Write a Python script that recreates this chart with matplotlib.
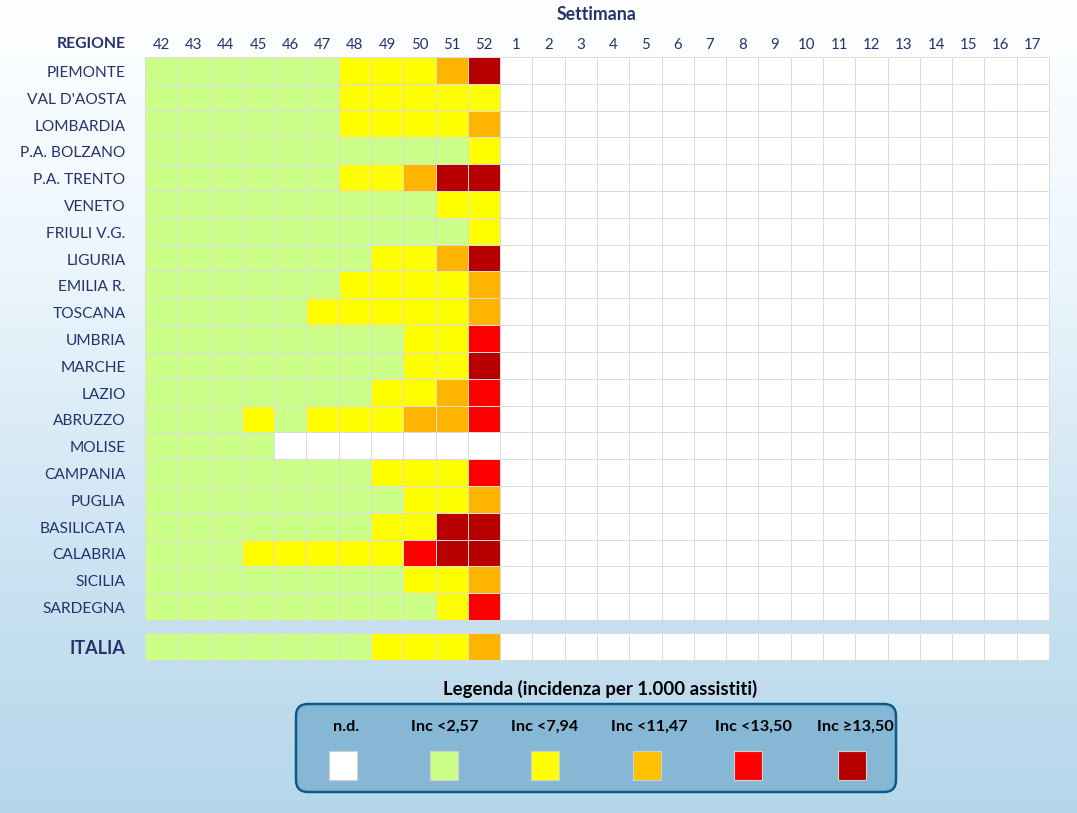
import numpy as np
import matplotlib
matplotlib.use("Agg")
import matplotlib.pyplot as plt
from matplotlib.colors import ListedColormap, BoundaryNorm, LinearSegmentedColormap
from matplotlib.patches import FancyBboxPatch, Rectangle
from matplotlib.transforms import ScaledTranslation

plt.rcParams["font.family"] = ["Lato", "DejaVu Sans"]

weeks = ["42", "43", "44", "45", "46", "47", "48", "49", "50", "51", "52",
         "1", "2", "3", "4", "5", "6", "7", "8", "9", "10", "11", "12", "13", "14", "15", "16", "17"]
regions = ["PIEMONTE", "VAL D'AOSTA", "LOMBARDIA", "P.A. BOLZANO", "P.A. TRENTO", "VENETO",
           "FRIULI V.G.", "LIGURIA", "EMILIA R.", "TOSCANA", "UMBRIA", "MARCHE", "LAZIO",
           "ABRUZZO", "MOLISE", "CAMPANIA", "PUGLIA", "BASILICATA", "CALABRIA", "SICILIA", "SARDEGNA"]

# class of each cell, weeks 42..52 (0 = n.d., 5 = highest); later weeks have no data yet
levels = [
    [1, 1, 1, 1, 1, 1, 2, 2, 2, 3, 5],
    [1, 1, 1, 1, 1, 1, 2, 2, 2, 2, 2],
    [1, 1, 1, 1, 1, 1, 2, 2, 2, 2, 3],
    [1, 1, 1, 1, 1, 1, 1, 1, 1, 1, 2],
    [1, 1, 1, 1, 1, 1, 2, 2, 3, 5, 5],
    [1, 1, 1, 1, 1, 1, 1, 1, 1, 2, 2],
    [1, 1, 1, 1, 1, 1, 1, 1, 1, 1, 2],
    [1, 1, 1, 1, 1, 1, 1, 2, 2, 3, 5],
    [1, 1, 1, 1, 1, 1, 2, 2, 2, 2, 3],
    [1, 1, 1, 1, 1, 2, 2, 2, 2, 2, 3],
    [1, 1, 1, 1, 1, 1, 1, 1, 2, 2, 4],
    [1, 1, 1, 1, 1, 1, 1, 1, 2, 2, 5],
    [1, 1, 1, 1, 1, 1, 1, 2, 2, 3, 4],
    [1, 1, 1, 2, 1, 2, 2, 2, 3, 3, 4],
    [1, 1, 1, 1, 0, 0, 0, 0, 0, 0, 0],
    [1, 1, 1, 1, 1, 1, 1, 2, 2, 2, 4],
    [1, 1, 1, 1, 1, 1, 1, 1, 2, 2, 3],
    [1, 1, 1, 1, 1, 1, 1, 2, 2, 5, 5],
    [1, 1, 1, 2, 2, 2, 2, 2, 4, 5, 5],
    [1, 1, 1, 1, 1, 1, 1, 1, 2, 2, 3],
    [1, 1, 1, 1, 1, 1, 1, 1, 1, 2, 4],
]
italia = [1, 1, 1, 1, 1, 1, 1, 2, 2, 2, 3]

legend_labels = ["n.d.", "Inc <2,57", "Inc <7,94", "Inc <11,47", "Inc <13,50", "Inc ≥13,50"]
colors = ["#ffffff", "#ccff88", "#ffff00", "#ffb400", "#ff0000", "#b80000"]
legend_colors = ["#ffffff", "#ccff88", "#ffff00", "#ffc000", "#ff0000", "#b80000"]

W, H = 1077, 813
NAVY = "#26336b"
GRID = "#dcdcdc"

cmap = ListedColormap(colors)
norm = BoundaryNorm(np.arange(-0.5, 6.5), cmap.N)


def px_axes(fig, left, top, right, bottom):
    return fig.add_axes([left / W, 1 - bottom / H, (right - left) / W, (bottom - top) / H])


def fill_weeks(rows):
    # pad the rows out to all the weeks of the season
    grid = np.zeros((len(rows), len(weeks)), dtype=int)
    for i, r in enumerate(rows):
        grid[i, :len(r)] = r
    return grid


def draw_grid(ax, grid):
    ax.pcolormesh(grid, cmap=cmap, norm=norm, edgecolors=GRID, linewidth=0.7)
    ax.set_xlim(0, grid.shape[1])
    ax.set_ylim(grid.shape[0], 0)
    for s in ax.spines.values():
        s.set_color(GRID)
        s.set_linewidth(0.7)


fig = plt.figure(figsize=(W / 100, H / 100), dpi=100)

# background gradient
bg = fig.add_axes([0, 0, 1, 1], zorder=0)
grad = LinearSegmentedColormap.from_list(
    "bg", [(0, "#ffffff"), (0.3, "#eef7fd"), (0.76, "#c6e0f0"), (1, "#b6d7eb")])
bg.imshow(np.linspace(0, 1, 256).reshape(-1, 1), aspect="auto", cmap=grad, extent=[0, W, H, 0])
bg.set_xlim(0, W)
bg.set_ylim(H, 0)
bg.axis("off")

# main table
ax = px_axes(fig, 145, 57, 1049, 620)
ax.set_zorder(1)
draw_grid(ax, fill_weeks(levels))
ax.set_xticks(np.arange(len(weeks)) + 0.5)
ax.set_xticklabels(weeks, fontsize=10.8, color=NAVY)
ax.xaxis.tick_top()
ax.set_yticks(np.arange(len(regions)) + 0.5)
ax.set_yticklabels(regions, fontsize=11.2, color=NAVY)
ax.tick_params(axis="x", length=0, pad=3.6)
ax.tick_params(axis="y", length=0, pad=14)
nudge = ScaledTranslation(0, -1 / 100, fig.dpi_scale_trans)
for lab in ax.get_yticklabels():
    lab.set_transform(lab.get_transform() + nudge)

# national row
ax2 = px_axes(fig, 145, 633, 1049, 660)
ax2.set_zorder(1)
draw_grid(ax2, fill_weeks([italia]))
ax2.set_xticks([])
ax2.set_yticks([0.5])
ax2.set_yticklabels(["ITALIA"], fontsize=13, fontweight="bold", color=NAVY)
ax2.tick_params(axis="y", length=0, pad=14)

# headers and legend go on the pixel axes, above the tables
top = fig.add_axes([0, 0, 1, 1], zorder=2)
top.set_xlim(0, W)
top.set_ylim(H, 0)
top.axis("off")
top.text(596.5, 15, "Settimana", ha="center", va="center", fontsize=12.8, fontweight="bold", color=NAVY)
top.text(125.5, 44, "REGIONE", ha="right", va="center", fontsize=11.3, fontweight="bold", color=NAVY)
top.text(600, 689, "Legenda (incidenza per 1.000 assistiti)", ha="center", va="center",
         fontsize=13.4, fontweight="bold", color="black")

box = FancyBboxPatch((296 + 12, 704 + 12), 600 - 24, 88 - 24,
                     boxstyle="round,pad=12,rounding_size=12",
                     facecolor="#86b8d6", edgecolor="#0f5a8c", linewidth=1.8)
top.add_patch(box)

swatch_x = [343, 444, 545, 647, 748, 852]
label_x = [346, 444.5, 545, 649, 753, 855]
for x, tx, lab, col in zip(swatch_x, label_x, legend_labels, legend_colors):
    top.text(tx, 727, lab, ha="center", va="center", fontsize=11.7, fontweight="bold", color="black")
    top.add_patch(Rectangle((x - 14, 751), 28, 29, facecolor=col, edgecolor="#d0d0d0", linewidth=0.8))

fig.savefig("out.png", dpi=100)
